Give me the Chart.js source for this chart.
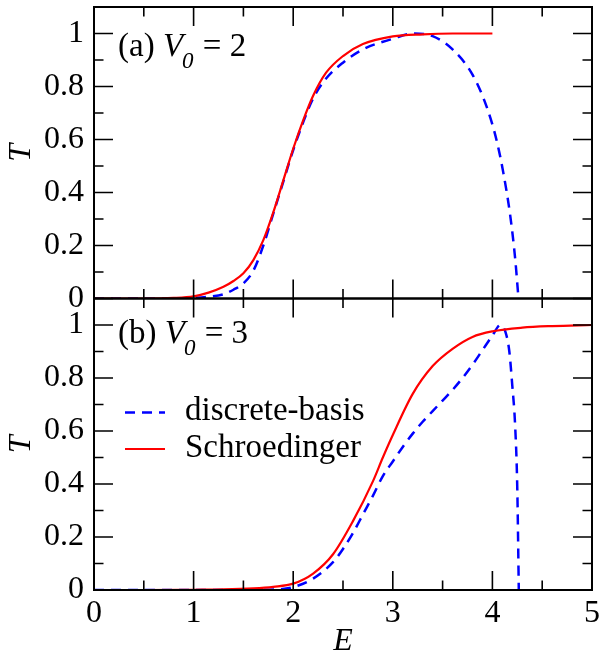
<!DOCTYPE html>
<html><head><meta charset="utf-8">
<script src="https://cdn.jsdelivr.net/npm/chart.js@4"></script>
<style>html,body{margin:0;padding:0;background:#fff}
#fontwarm{position:absolute;left:300px;top:300px;font:24px 'Liberation Serif';color:#fff;z-index:-1}
#c{position:absolute;left:0;top:0}</style>
</head><body>
<div id="fontwarm">E <i>T</i></div>
<canvas id="c" width="601" height="658"></canvas>
<script>
// ---- data ----
// panel (a) V0 = 2
const E_a_basis = [0, 0.5, 0.8, 1.0, 1.15, 1.3, 1.4, 1.5, 1.6, 1.7, 1.8, 1.9, 2.0, 2.1, 2.2, 2.33, 2.5, 2.7, 3.0, 3.2, 3.4, 3.6, 3.8, 3.94, 4.04, 4.11, 4.18, 4.23, 4.262];
const T_a_basis = [0, 0, 0, 0.002, 0.007, 0.016, 0.033, 0.057, 0.105, 0.2, 0.32, 0.44, 0.56, 0.665, 0.755, 0.83, 0.89, 0.94, 0.98, 1.0, 0.99, 0.94, 0.845, 0.726, 0.60, 0.474, 0.31, 0.145, 0];
const E_a_schr = [0, 0.5, 0.8, 1.0, 1.15, 1.3, 1.4, 1.5, 1.6, 1.7, 1.8, 1.9, 2.0, 2.1, 2.2, 2.33, 2.5, 2.7, 3.0, 3.3, 3.6, 4.0];
const T_a_schr = [0, 0, 0.002, 0.008, 0.022, 0.044, 0.066, 0.095, 0.145, 0.22, 0.325, 0.445, 0.565, 0.672, 0.765, 0.852, 0.915, 0.96, 0.989, 0.997, 1.0, 1.0];
// panel (b) V0 = 3
const E_b_basis = [0, 1.0, 1.5, 1.87, 2.0, 2.2, 2.4, 2.5, 2.6, 2.7, 2.8, 2.9, 3.0, 3.1, 3.2, 3.3, 3.4, 3.5, 3.6, 3.7, 3.8, 3.9, 4.0, 4.08, 4.13, 4.17, 4.2, 4.227, 4.25, 4.265];
const T_b_basis = [0, 0, 0, 0.003, 0.011, 0.043, 0.105, 0.155, 0.215, 0.285, 0.355, 0.43, 0.485, 0.54, 0.59, 0.635, 0.675, 0.715, 0.755, 0.80, 0.85, 0.905, 0.96, 1.0, 0.975, 0.9, 0.77, 0.63, 0.38, 0];
const E_b_schr = [0, 0.5, 1.0, 1.3, 1.6, 1.8, 2.0, 2.2, 2.4, 2.6, 2.8, 2.9, 3.0, 3.2, 3.4, 3.6, 3.8, 4.0, 4.3, 4.6, 5.0];
const T_b_schr = [0, 0, 0.001, 0.002, 0.006, 0.012, 0.024, 0.062, 0.135, 0.26, 0.41, 0.50, 0.585, 0.74, 0.845, 0.91, 0.955, 0.976, 0.99, 0.996, 1.0];

const xMajor = [0, 1, 2, 3, 4, 5];
const xMinor = [0.5, 1.5, 2.5, 3.5, 4.5];
const xTickLabels = ['0', '1', '2', '3', '4', '5'];
const yMajor = [0, 0.2, 0.4, 0.6, 0.8, 1.0];
const yMinor = [0.1, 0.3, 0.5, 0.7, 0.9];
const yTickLabels = ['0', '0.2', '0.4', '0.6', '0.8', '1'];
const seriesLabels = ['discrete-basis', 'Schroedinger'];
const panelLabels = [['(a) ', ' = 2'], ['(b) ', ' = 3']];

// ---- styling ----
const FONT = '"Liberation Serif"';
const BLUE = '#0000ff', RED = '#ff0000';
const DASH = [10, 7];
function pts(E, T) { return E.map((e, i) => ({x: e, y: T[i]})); }

function yScale(weight) {
  return {
    type: 'linear', min: 0, max: 1.1, position: 'left', stack: 'T', stackWeight: 1, weight: weight,
    afterBuildTicks: s => { s.ticks = yMajor.map(v => ({value: v})); },
    ticks: {callback: (v, i) => yTickLabels[i], font: {family: FONT, size: 32}, color: '#000', padding: 10, autoSkip: false},
    grid: {display: false, drawTicks: false},
    border: {display: false},
    title: {display: true, text: 'T', color: '#000', font: {family: FONT, size: 32, style: 'italic', lineHeight: 1.2}, padding: {top: 2, bottom: 0}},
    afterFit: s => { s.width = 94; s.paddingTop = 0; s.paddingBottom = 0; }
  };
}

const framePlugin = {
  id: 'frame',
  afterDatasetsDraw(chart) {
    const {ctx, chartArea, scales} = chart;
    const xs = scales.x;
    const l = chartArea.left, r = chartArea.right;
    ctx.save();
    ctx.strokeStyle = '#000';
    ['yt', 'yb'].forEach(id => {
      const ys = scales[id];
      const top = ys.top, bot = ys.bottom;
      ctx.lineWidth = 1.6;
      ctx.beginPath();
      const tk = (v, len) => { const py = ys.getPixelForValue(v); ctx.moveTo(l, py); ctx.lineTo(l + len, py); ctx.moveTo(r, py); ctx.lineTo(r - len, py); };
      yMajor.forEach(v => tk(v, 19));
      yMinor.forEach(v => tk(v, 9.5));
      const tx = (v, len) => { const px = xs.getPixelForValue(v); ctx.moveTo(px, top); ctx.lineTo(px, top + len); ctx.moveTo(px, bot); ctx.lineTo(px, bot - len); };
      xMajor.forEach(v => tx(v, 19));
      xMinor.forEach(v => tx(v, 9.5));
      ctx.stroke();
      ctx.lineWidth = 2;
      ctx.strokeRect(l, top, r - l, bot - top);
    });
    ctx.restore();
  },
  afterDraw(chart) {
    const {ctx} = chart;
    ctx.save();
    ctx.fillStyle = '#000';
    ctx.textAlign = 'left';
    ctx.textBaseline = 'alphabetic';
    const bases = [[118, 56], [118, 343]];
    panelLabels.forEach((p, k) => {
      let [x, y] = bases[k];
      ctx.font = '33px ' + FONT; ctx.fillText(p[0], x, y); x += ctx.measureText(p[0]).width;
      ctx.font = 'italic 33px ' + FONT; ctx.fillText('V', x, y); x += ctx.measureText('V').width;
      ctx.font = 'italic 23px ' + FONT; ctx.fillText('0', x - 1, y + 12); x += ctx.measureText('0').width;
      ctx.font = '33px ' + FONT; ctx.fillText(p[1], x, y);
    });
    const ds = chart.data.datasets;
    const rows = [[ds[2], 412.5, 420], [ds[3], 449, 457]];
    rows.forEach(([d, ly, ty]) => {
      ctx.save();
      ctx.strokeStyle = d.borderColor; ctx.lineWidth = d.borderWidth;
      ctx.setLineDash(d.borderDash || []);
      ctx.beginPath(); ctx.moveTo(125, ly); ctx.lineTo(165, ly); ctx.stroke();
      ctx.restore();
      ctx.font = '33px ' + FONT; ctx.fillStyle = '#000';
      ctx.fillText(d.label, 185, ty);
    });
    ctx.restore();
  }
};

new Chart(document.getElementById('c'), {
  type: 'line',
  data: {datasets: [
    {label: seriesLabels[0], data: pts(E_a_basis, T_a_basis), yAxisID: 'yt', borderColor: BLUE, borderWidth: 2.5, borderDash: DASH, order: 1},
    {label: seriesLabels[1], data: pts(E_a_schr, T_a_schr), yAxisID: 'yt', borderColor: RED, borderWidth: 2.2, order: 0},
    {label: seriesLabels[0], data: pts(E_b_basis, T_b_basis), yAxisID: 'yb', borderColor: BLUE, borderWidth: 2.5, borderDash: DASH, order: 1},
    {label: seriesLabels[1], data: pts(E_b_schr, T_b_schr), yAxisID: 'yb', borderColor: RED, borderWidth: 2.2, order: 0}
  ]},
  options: {
    responsive: false, animation: false, devicePixelRatio: 1,
    layout: {padding: {top: 7, right: 9, left: 0, bottom: 0}},
    elements: {point: {radius: 0, hoverRadius: 0}, line: {cubicInterpolationMode: 'monotone', fill: false}},
    plugins: {legend: {display: false}, tooltip: {enabled: false}},
    events: [],
    scales: {
      x: {
        type: 'linear', min: 0, max: 5, position: 'bottom',
        afterBuildTicks: s => { s.ticks = xMajor.map(v => ({value: v})); },
        ticks: {callback: (v, i) => xTickLabels[i], font: {family: FONT, size: 32}, color: '#000', padding: 4, maxRotation: 0, autoSkip: false},
        grid: {display: false, drawTicks: false},
        border: {display: false},
        title: {display: true, text: 'E', color: '#000', font: {family: FONT, size: 32, style: 'italic', lineHeight: 1}, padding: 0},
        afterFit: s => { s.height = 68; s.paddingLeft = 0; s.paddingRight = 0; }
      },
      yb: yScale(1),
      yt: yScale(1)
    }
  },
  plugins: [framePlugin]
});
</script></body></html>
